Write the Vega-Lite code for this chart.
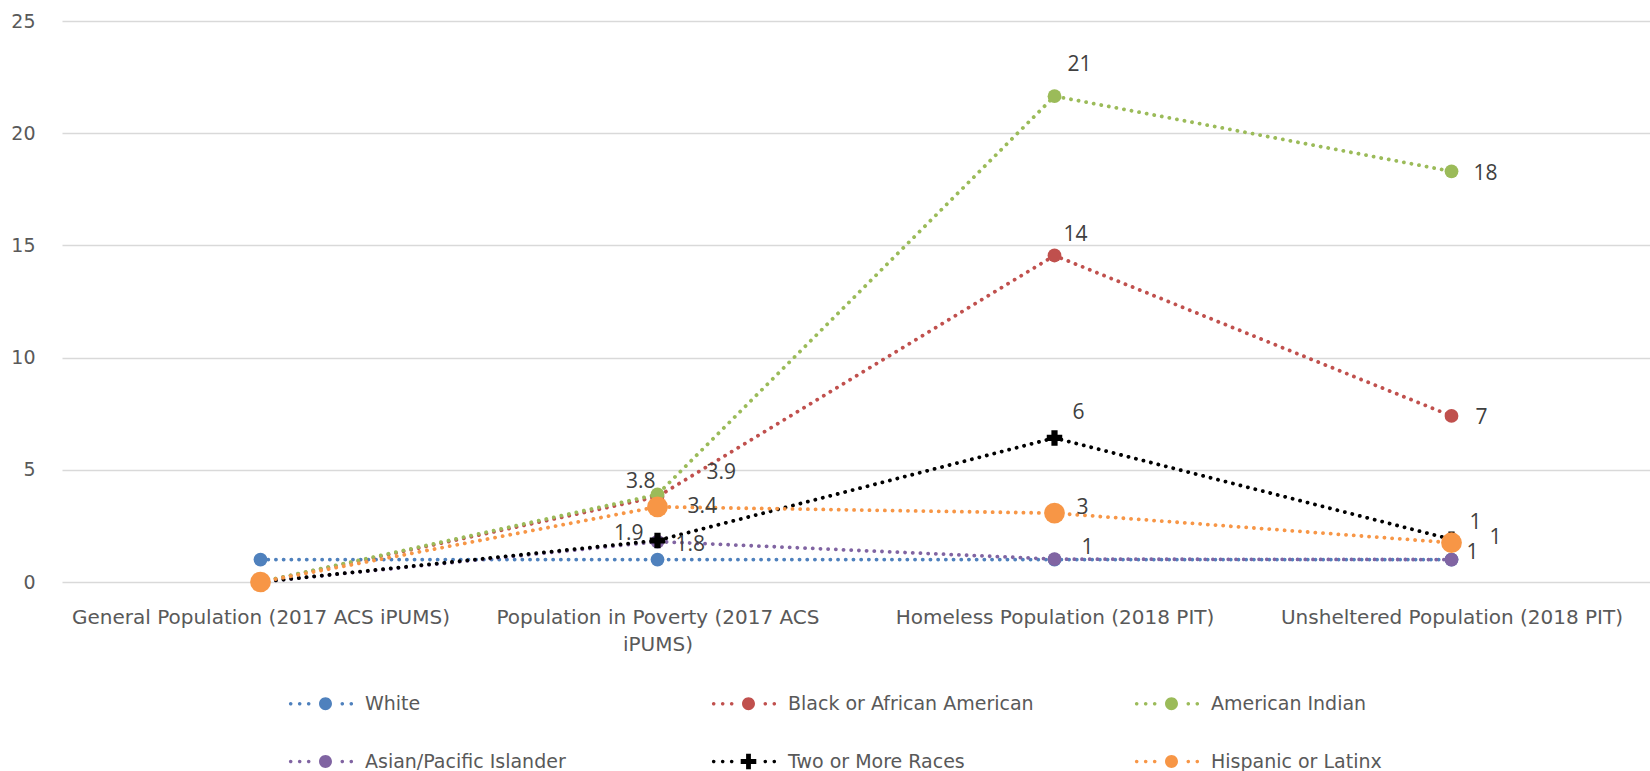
{
  "$schema": "https://vega.github.io/schema/vega-lite/v6.json",
  "width": 1588,
  "height": 561,
  "autosize": {"type": "none"},
  "padding": {"left": 62, "top": 21, "right": 0, "bottom": 189},
  "background": "white",
  "config": {
    "font": "Open Sans",
    "view": {"stroke": null},
    "axis": {"labelColor": "#595959", "labelFont": "DejaVu Sans", "labelFontSize": 20, "domain": false, "ticks": false, "title": null}
  },
  "data": {
    "values": [
      {"series": "White", "cat": "General Population (2017 ACS iPUMS)", "value": 1, "label": ""},
      {"series": "White", "cat": "Population in Poverty (2017 ACS iPUMS)", "value": 1, "label": ""},
      {"series": "White", "cat": "Homeless Population (2018 PIT)", "value": 1, "label": ""},
      {"series": "White", "cat": "Unsheltered Population (2018 PIT)", "value": 1, "label": ""},
      {"series": "Black or African American", "cat": "General Population (2017 ACS iPUMS)", "value": 0, "label": ""},
      {"series": "Black or African American", "cat": "Population in Poverty (2017 ACS iPUMS)", "value": 3.8, "label": "3.8"},
      {"series": "Black or African American", "cat": "Homeless Population (2018 PIT)", "value": 14.55, "label": "14"},
      {"series": "Black or African American", "cat": "Unsheltered Population (2018 PIT)", "value": 7.4, "label": "7"},
      {"series": "American Indian", "cat": "General Population (2017 ACS iPUMS)", "value": 0, "label": ""},
      {"series": "American Indian", "cat": "Population in Poverty (2017 ACS iPUMS)", "value": 3.9, "label": "3.9"},
      {"series": "American Indian", "cat": "Homeless Population (2018 PIT)", "value": 21.65, "label": "21"},
      {"series": "American Indian", "cat": "Unsheltered Population (2018 PIT)", "value": 18.3, "label": "18"},
      {"series": "Asian/Pacific Islander", "cat": "General Population (2017 ACS iPUMS)", "value": 0, "label": ""},
      {"series": "Asian/Pacific Islander", "cat": "Population in Poverty (2017 ACS iPUMS)", "value": 1.8, "label": "1.8"},
      {"series": "Asian/Pacific Islander", "cat": "Homeless Population (2018 PIT)", "value": 1.02, "label": "1"},
      {"series": "Asian/Pacific Islander", "cat": "Unsheltered Population (2018 PIT)", "value": 1, "label": "1"},
      {"series": "Two or More Races", "cat": "General Population (2017 ACS iPUMS)", "value": 0, "label": ""},
      {"series": "Two or More Races", "cat": "Population in Poverty (2017 ACS iPUMS)", "value": 1.85, "label": "1.9"},
      {"series": "Two or More Races", "cat": "Homeless Population (2018 PIT)", "value": 6.42, "label": "6"},
      {"series": "Two or More Races", "cat": "Unsheltered Population (2018 PIT)", "value": 1.9, "label": "1"},
      {"series": "Hispanic or Latinx", "cat": "General Population (2017 ACS iPUMS)", "value": 0, "label": ""},
      {"series": "Hispanic or Latinx", "cat": "Population in Poverty (2017 ACS iPUMS)", "value": 3.35, "label": "3.4"},
      {"series": "Hispanic or Latinx", "cat": "Homeless Population (2018 PIT)", "value": 3.07, "label": "3"},
      {"series": "Hispanic or Latinx", "cat": "Unsheltered Population (2018 PIT)", "value": 1.75, "label": "1"}
    ]
  },
  "encoding": {
    "x": {
      "field": "cat",
      "type": "ordinal",
      "sort": ["General Population (2017 ACS iPUMS)", "Population in Poverty (2017 ACS iPUMS)", "Homeless Population (2018 PIT)", "Unsheltered Population (2018 PIT)"],
      "scale": {"type": "point", "padding": 0.5},
      "axis": {
        "grid": false,
        "labelAngle": 0,
        "labelPadding": 25,
        "labelLineHeight": 27,
        "labelLimit": 0,
        "labelExpr": "datum.value == 'Population in Poverty (2017 ACS iPUMS)' ? ['Population in Poverty (2017 ACS', 'iPUMS)'] : datum.value"
      }
    },
    "y": {
      "field": "value",
      "type": "quantitative",
      "scale": {"domain": [0, 25], "nice": false},
      "axis": {"values": [0, 5, 10, 15, 20, 25], "grid": true, "gridColor": "#D9D9D9", "gridWidth": 1.3, "labelPadding": 27, "labelFontSize": 19}
    },
    "color": {
      "field": "series",
      "type": "nominal",
      "scale": {
        "domain": ["White", "Black or African American", "American Indian", "Asian/Pacific Islander", "Two or More Races", "Hispanic or Latinx"],
        "range": ["#4F81BD", "#C0504D", "#9BBB59", "#8064A2", "#000000", "#F79646"]
      },
      "legend": {
        "title": null,
        "orient": "none",
        "legendX": 254,
        "legendY": 673,
        "direction": "horizontal",
        "columns": 3,
        "gridAlign": "all",
        "columnPadding": 100,
        "rowPadding": 38,
        "padding": 0,
        "symbolType": "circle",
        "symbolSize": 144,
        "symbolStrokeWidth": 0,
        "symbolOpacity": 1,
        "labelOffset": 30,
        "labelFont": "DejaVu Sans",
        "labelFontSize": 19,
        "labelColor": "#595959",
        "labelLimit": 0,
        "encode": {
          "symbols": {
            "update": {
              "shape": {"signal": "datum.value == 'Two or More Races' ? 'M-6.1,0a0.3,0.3 0 1,0 0.6,0a0.3,0.3 0 1,0 -0.6,0Z M-4.6,0a0.3,0.3 0 1,0 0.6,0a0.3,0.3 0 1,0 -0.6,0Z M-3.1,0a0.3,0.3 0 1,0 0.6,0a0.3,0.3 0 1,0 -0.6,0Z M-0.4,-1.3L0.4,-1.3L0.4,-0.4L1.3,-0.4L1.3,0.4L0.4,0.4L0.4,1.3L-0.4,1.3L-0.4,0.4L-1.3,0.4L-1.3,-0.4L-0.4,-0.4Z M2.5,0a0.3,0.3 0 1,0 0.6,0a0.3,0.3 0 1,0 -0.6,0Z M4.0,0a0.3,0.3 0 1,0 0.6,0a0.3,0.3 0 1,0 -0.6,0Z' : 'M-6.1,0a0.3,0.3 0 1,0 0.6,0a0.3,0.3 0 1,0 -0.6,0Z M-4.6,0a0.3,0.3 0 1,0 0.6,0a0.3,0.3 0 1,0 -0.6,0Z M-3.1,0a0.3,0.3 0 1,0 0.6,0a0.3,0.3 0 1,0 -0.6,0Z M-1.08,0a1.08,1.08 0 1,0 2.16,0a1.08,1.08 0 1,0 -2.16,0Z M2.5,0a0.3,0.3 0 1,0 0.6,0a0.3,0.3 0 1,0 -0.6,0Z M4.0,0a0.3,0.3 0 1,0 0.6,0a0.3,0.3 0 1,0 -0.6,0Z'"}
            }
          }
        }
      }
    }
  },
  "layer": [
    {
      "mark": {"type": "line", "strokeWidth": 3.8, "strokeDash": [0.1, 7.6], "strokeCap": "round"}
    },
    {
      "transform": [{"filter": "datum.series != 'Two or More Races' && datum.series != 'Hispanic or Latinx'"}],
      "mark": {"type": "point", "filled": true, "opacity": 1, "shape": "circle", "size": 190}
    },
    {
      "transform": [{"filter": "datum.series == 'Two or More Races'"}],
      "mark": {"type": "point", "filled": true, "opacity": 1, "shape": "cross", "size": 240}
    },
    {
      "transform": [{"filter": "datum.series == 'Hispanic or Latinx'"}],
      "mark": {"type": "point", "filled": true, "opacity": 1, "shape": "circle", "size": 430}
    },
    {
      "transform": [{"filter": "datum.label != '' && datum.cat == 'Population in Poverty (2017 ACS iPUMS)'"}],
      "mark": {
        "type": "text",
        "font": "Open Sans",
        "fontSize": 21,
        "baseline": "middle",
        "align": {"expr": "datum.series == 'Black or African American' || datum.series == 'Two or More Races' ? 'right' : 'left'"},
        "dx": {"expr": "datum.series == 'American Indian' ? 49 : datum.series == 'Black or African American' ? -2 : datum.series == 'Hispanic or Latinx' ? 30 : datum.series == 'Two or More Races' ? -14 : 18"},
        "dy": {"expr": "datum.series == 'American Indian' ? -21 : datum.series == 'Black or African American' ? -15 : datum.series == 'Hispanic or Latinx' ? 0 : datum.series == 'Two or More Races' ? -6 : 3"}
      },
      "encoding": {"text": {"field": "label"}, "color": {"value": "#404040"}}
    },
    {
      "transform": [{"filter": "datum.label != '' && datum.cat == 'Homeless Population (2018 PIT)'"}],
      "mark": {
        "type": "text",
        "font": "Open Sans",
        "fontSize": 21,
        "baseline": "middle",
        "align": "left",
        "dx": {"expr": "datum.series == 'American Indian' ? 13 : datum.series == 'Black or African American' ? 9 : datum.series == 'Two or More Races' ? 18 : datum.series == 'Hispanic or Latinx' ? 22 : 27"},
        "dy": {"expr": "datum.series == 'American Indian' ? -31 : datum.series == 'Black or African American' ? -20 : datum.series == 'Two or More Races' ? -25 : datum.series == 'Hispanic or Latinx' ? -5 : -11"}
      },
      "encoding": {"text": {"field": "label"}, "color": {"value": "#404040"}}
    },
    {
      "transform": [{"filter": "datum.label != '' && datum.cat == 'Unsheltered Population (2018 PIT)'"}],
      "mark": {
        "type": "text",
        "font": "Open Sans",
        "fontSize": 21,
        "baseline": "middle",
        "align": "left",
        "dx": {"expr": "datum.series == 'American Indian' ? 22 : datum.series == 'Black or African American' ? 24 : datum.series == 'Two or More Races' ? 18 : datum.series == 'Hispanic or Latinx' ? 38 : 15"},
        "dy": {"expr": "datum.series == 'American Indian' ? 3 : datum.series == 'Black or African American' ? 2 : datum.series == 'Two or More Races' ? -16 : datum.series == 'Hispanic or Latinx' ? -5 : -7"}
      },
      "encoding": {"text": {"field": "label"}, "color": {"value": "#404040"}}
    }
  ]
}
